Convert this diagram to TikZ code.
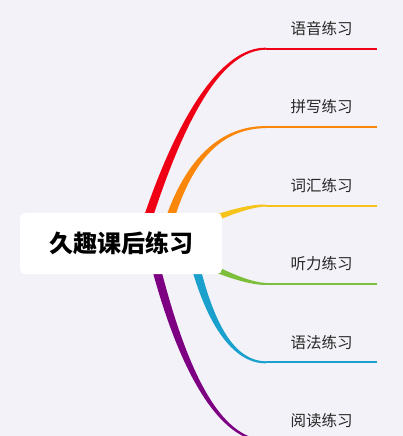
\documentclass[tikz,border=0pt]{standalone}
\usepackage{fontspec}
\setmainfont{Noto Sans CJK SC}
\usetikzlibrary{positioning}
\usetikzlibrary{calc}

\definecolor{bgcol}{RGB}{242,242,248}
\definecolor{txtcol}{RGB}{40,40,40}
\definecolor{redline}{RGB}{240,0,20}
\definecolor{orangeline}{RGB}{250,135,10}
\definecolor{yellowline}{RGB}{245,195,25}
\definecolor{greenline}{RGB}{125,190,60}
\definecolor{blueline}{RGB}{25,160,205}
\definecolor{purpleline}{RGB}{125,0,130}

% tapered branch: colour, start, control near start, control near end, label
\newcommand{\branch}[5]{%
  \path (#2) ++(#3) coordinate (ca);
  \path (#5.south west) ++(#4) coordinate (cb);
  \fill[#1] ($(#2)!4.5pt!90:(ca)$) .. controls ($(ca)!4pt!-90:(#2)$) and ($(cb)!1.5pt!90:(#5.south west)$) .. ($(#5.south west)!1pt!-90:(cb)$)
    -- ($(#5.south west)!1pt!90:(cb)$) .. controls ($(cb)!1.5pt!-90:(#5.south west)$) and ($(ca)!4pt!90:(#2)$) .. ($(#2)!4.5pt!-90:(ca)$) -- cycle;
  \draw[#1, line width=2pt] (#5.south west) -- (#5.south east);
}

\begin{document}
\begin{tikzpicture}[x=1pt, y=-1pt, node distance=38pt,
    leaf/.style = {minimum width=111pt, minimum height=40pt, inner sep=0pt, text=txtcol, font=\fontsize{15.5}{18}\selectfont},
    root/.style = {fill=white, rounded corners=5pt, minimum width=202pt, minimum height=61pt, inner sep=0pt, font=\fontsize{24}{28}\selectfont\bfseries}]
    \fill[bgcol] (0,0) rectangle (403,436);
    \useasboundingbox (0,0) rectangle (403,436);

    \node[leaf] (l1) at (321.5,28.5) {语音练习};
    \node[leaf] (l2) [below=of l1] {拼写练习};
    \node[leaf] (l3) [below=of l2] {词汇练习};
    \node[leaf] (l4) [below=of l3] {听力练习};
    \node[leaf] (l5) [below=of l4] {语法练习};
    \node[leaf] (l6) [below=of l5] {阅读练习};

    \coordinate (s1) at (140,243);
    \coordinate (s2) at (163,243);
    \coordinate (s3) at (160,243);
    \coordinate (s4) at (160,243);
    \coordinate (s5) at (190,243);
    \coordinate (s6) at (150,243);

    \branch{redline}{s1}{40,-130}{-43,0}{l1}
    \branch{orangeline}{s2}{19,-77}{-49,0}{l2}
    \branch{yellowline}{s3}{50,-25}{-20,0}{l3}
    \branch{greenline}{s4}{50,25}{-20,0}{l4}
    \branch{blueline}{s5}{17,79}{-33,0}{l5}
    \branch{purpleline}{s6}{31,131}{-45,0}{l6}

    \node[root] (root) at (121,243.5) {久趣课后练习};
\end{tikzpicture}
\end{document}
